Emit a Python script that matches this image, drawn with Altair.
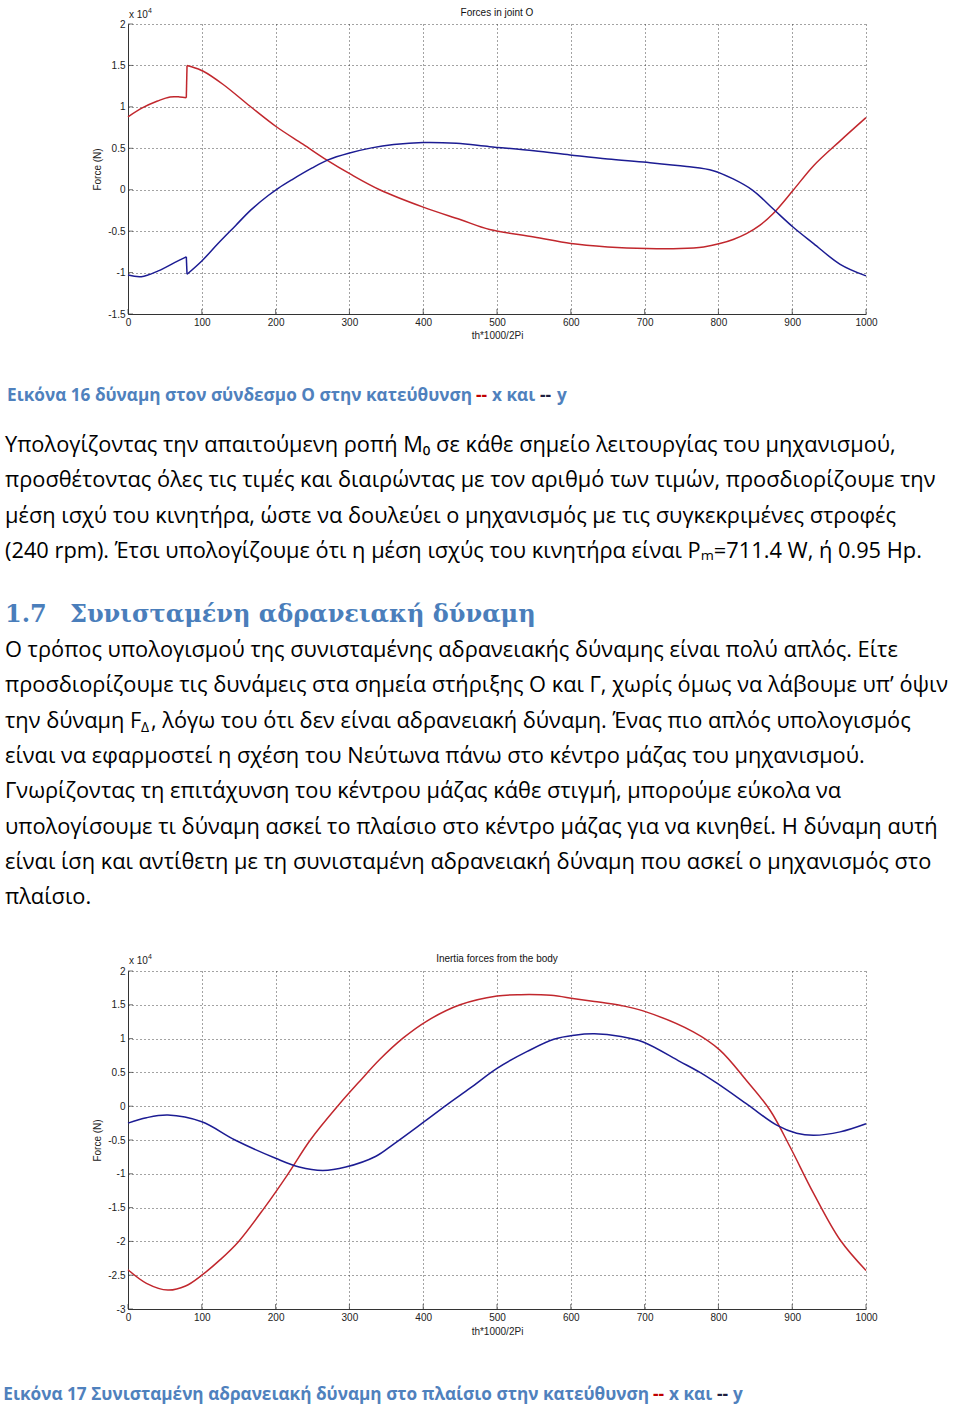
import altair as alt
import pandas as pd

# ---------------- data ----------------
X_TICKS = [0, 100, 200, 300, 400, 500, 600, 700, 800, 900, 1000]
C1_YTICKS = [-1.5, -1, -0.5, 0, 0.5, 1, 1.5, 2]
C2_YTICKS = [-3, -2.5, -2, -1.5, -1, -0.5, 0, 0.5, 1, 1.5, 2]

# Chart 1: Forces in joint O (units of 1e4 N); the curves jump between x=79 and x=80
C1_JUMP = 80
C1_X_RED = [0, 20, 40, 57, 70, 79, 80, 84, 102, 129, 165, 201, 237, 269, 301, 341, 400, 450, 490,
            550, 600, 650, 703, 748, 780, 802, 820, 838, 856, 874, 901, 929, 965, 1000]
C1_RED = [0.88, 0.99, 1.07, 1.12, 1.12, 1.11, 1.50, 1.49, 1.43, 1.27, 1.01, 0.76, 0.55, 0.36, 0.19,
          0.0, -0.21, -0.36, -0.48, -0.57, -0.65, -0.69, -0.71, -0.71, -0.69, -0.65, -0.60, -0.53,
          -0.43, -0.29, -0.01, 0.29, 0.59, 0.87]
C1_X_BLUE = [0, 18, 41, 63, 79, 80, 100, 122, 145, 167, 190, 204, 222, 249, 271, 299, 330, 360, 400,
             445, 490, 550, 599, 650, 703, 757, 793, 820, 847, 874, 901, 929, 965, 1000]
C1_BLUE = [-1.03, -1.05, -0.98, -0.88, -0.81, -1.02, -0.86, -0.65, -0.44, -0.24, -0.07, 0.02, 0.12,
           0.26, 0.36, 0.44, 0.505, 0.545, 0.57, 0.56, 0.52, 0.47, 0.42, 0.37, 0.33, 0.28, 0.23,
           0.13, -0.01, -0.23, -0.45, -0.65, -0.90, -1.04]

# Chart 2: Inertia forces from the body (units of 1e4 N)
C2_X_RED = [0, 25, 54, 78, 100, 125, 150, 185, 217, 247, 284, 314, 341, 373, 405, 450, 500, 532,
            573, 605, 632, 668, 698, 766, 802, 838, 870, 897, 929, 965, 1000]
C2_RED = [-2.42, -2.62, -2.72, -2.66, -2.50, -2.27, -2.00, -1.50, -1.00, -0.50, 0.0, 0.37, 0.69,
          1.01, 1.26, 1.50, 1.63, 1.65, 1.64, 1.59, 1.55, 1.49, 1.41, 1.10, 0.83, 0.38, -0.06,
          -0.60, -1.29, -1.98, -2.43]
C2_X_BLUE = [0, 25, 54, 100, 145, 200, 232, 264, 295, 336, 360, 400, 432, 464, 500, 541, 577, 605,
             632, 668, 698, 748, 775, 798, 840, 879, 906, 929, 965, 1000]
C2_BLUE = [-0.25, -0.17, -0.13, -0.23, -0.50, -0.77, -0.90, -0.95, -0.90, -0.74, -0.56, -0.24,
           0.02, 0.27, 0.56, 0.81, 0.99, 1.05, 1.07, 1.03, 0.95, 0.66, 0.50, 0.34, 0.02, -0.28,
           -0.40, -0.43, -0.38, -0.26]

SERIES = ["x", "y"]

CAPTION1 = ["Εικόνα 16 δύναμη στον σύνδεσμο O στην κατεύθυνση", "--", "x και", "--", "y"]
CAPTION2 = ["Εικόνα 17 Συνισταμένη αδρανειακή δύναμη στο πλαίσιο στην κατεύθυνση", "--", "x και", "--", "y"]

P1_LINES = [
    "Υπολογίζοντας την απαιτούμενη ροπή M₀ σε κάθε σημείο λειτουργίας του μηχανισμού,",
    "προσθέτοντας όλες τις τιμές και διαιρώντας με τον αριθμό των τιμών, προσδιορίζουμε την",
    "μέση ισχύ του κινητήρα, ώστε να δουλεύει ο μηχανισμός με τις συγκεκριμένες στροφές",
    "(240 rpm). Έτσι υπολογίζουμε ότι η μέση ισχύς του κινητήρα είναι Pₘ=711.4 W, ή 0.95 Hp.",
]
HEADING = ["1.7", "Συνισταμένη αδρανειακή δύναμη"]
P2_LINES = [
    "Ο τρόπος υπολογισμού της συνισταμένης αδρανειακής δύναμης είναι πολύ απλός. Είτε",
    "προσδιορίζουμε τις δυνάμεις στα σημεία στήριξης Ο και Γ, χωρίς όμως να λάβουμε υπ’ όψιν",
    None,
    "είναι να εφαρμοστεί η σχέση του Νεύτωνα πάνω στο κέντρο μάζας του μηχανισμού.",
    "Γνωρίζοντας τη επιτάχυνση του κέντρου μάζας κάθε στιγμή, μπορούμε εύκολα να",
    "υπολογίσουμε τι δύναμη ασκεί το πλαίσιο στο κέντρο μάζας για να κινηθεί. Η δύναμη αυτή",
    "είναι ίση και αντίθετη με τη συνισταμένη αδρανειακή δύναμη που ασκεί ο μηχανισμός στο",
    "πλαίσιο.",
]
P2_L3 = ["την δύναμη F", "Δ", ", λόγω του ότι δεν είναι αδρανειακή δύναμη. Ένας πιο απλός υπολογισμός"]

# ---------------- styling ----------------
RED = "#c1272d"
BLUE = "#1c1c93"
CAP_BLUE = "#4f81bd"
DARK = "#1e1e40"
AX_FONT = "Liberation Sans"
BODY_FONT = "Open Sans"
BODY_SIZE = 21.8
CAP_SIZE = 17.2
W = 738
H1 = 290
H2 = 338
OX, OY = 128, 24  # page position of chart 1 plot origin


def segments(xs, ys, name, jump=None):
    """Split a series into pieces at a discontinuity (plus the vertical connector)."""
    rows = []
    for x, y in zip(xs, ys):
        if jump is None:
            rows.append((x, y, name, name))
        else:
            rows.append((x, y, name, name + ("b" if x >= jump else "a")))
    if jump is not None:
        i = xs.index(jump)
        rows.append((xs[i - 1], ys[i - 1], name, name + "j"))
        rows.append((xs[i], ys[i], name, name + "j"))
    return pd.DataFrame(rows, columns=["x", "f", "s", "seg"])


def txt(text, x, y, size, color="#000", font=BODY_FONT, weight="normal", align="left"):
    return alt.Chart(pd.DataFrame({"t": [text]})).mark_text(
        align=align, baseline="alphabetic", fontSize=size, font=font,
        fontWeight=weight, color=color
    ).encode(text="t:N", x=alt.value(x), y=alt.value(y))


def plot(df, ydom, yticks, h, title, title_y, xtitle_y):
    xs = alt.Scale(domain=[0, 1000], nice=False, zero=False)
    ys = alt.Scale(domain=ydom, nice=False, zero=False)
    common = dict(grid=True, gridDash=[1, 3], gridColor="#333", gridOpacity=0.9,
                  domainColor="#333", ticks=False, tickSize=0,
                  labelFont=AX_FONT, labelFontSize=10, labelColor="#222",
                  labelFlush=False, labelOverlap=False, labelBound=False,
                  labelExpr="datum.value + ''",
                  titleFont=AX_FONT, titleFontSize=10, titleFontWeight="normal",
                  titleColor="#222", titleAlign="center", titleBaseline="middle")
    xa = alt.Axis(values=X_TICKS, title="th*1000/2Pi", labelPadding=3,
                  titleX=W / 2, titleY=xtitle_y, **common)
    ya = alt.Axis(values=yticks, title="Force (N)", labelPadding=3,
                  titleX=-31, titleY=h / 2, titleAngle=270, **common)
    X = alt.X("x:Q", scale=xs, axis=xa)
    Y = alt.Y("f:Q", scale=ys, axis=ya)
    lines = alt.Chart(df).mark_line(strokeWidth=1.5, interpolate="catmull-rom").encode(
        x=X, y=Y,
        color=alt.Color("s:N", scale=alt.Scale(domain=SERIES, range=[RED, BLUE]), legend=None),
        detail="seg:N",
    )
    xt = alt.Chart(pd.DataFrame({"x": X_TICKS})).mark_tick(
        orient="vertical", size=5, thickness=1, color="#333"
    ).encode(x=X, y=alt.value(h - 2.5))
    yt = alt.Chart(pd.DataFrame({"f": yticks})).mark_tick(
        orient="horizontal", size=5, thickness=1, color="#333"
    ).encode(y=Y, x=alt.value(2.5))
    return [xt, yt, lines,
            txt(title, W / 2, title_y, 10, "#111", AX_FONT, align="center"),
            txt("x 10", 1, title_y + 2, 10, "#222", AX_FONT),
            txt("4", 20, title_y - 3, 7, "#222", AX_FONT)]


df1 = pd.concat([segments(C1_X_RED, C1_RED, SERIES[0], C1_JUMP),
                 segments(C1_X_BLUE, C1_BLUE, SERIES[1], C1_JUMP)])
df2 = pd.concat([segments(C2_X_RED, C2_RED, SERIES[0]),
                 segments(C2_X_BLUE, C2_BLUE, SERIES[1])])

# invisible page-sized rect: fixes the drawing bounds to the 960x1409 page
page = alt.Chart(pd.DataFrame({"a": [0]})).mark_rect(color="white", opacity=0).encode(
    x=alt.value(-OX), x2=alt.value(960 - OX), y=alt.value(-OY), y2=alt.value(1409 - OY))

L = 5 - OX
doc = []


def caption(parts, y, x_end, x_red, x_xkai, x_dark, x_y):
    return [txt(parts[0], x_end - OX, y - OY, CAP_SIZE, CAP_BLUE, weight="bold", align="right"),
            txt(parts[1], x_red - OX, y - OY, CAP_SIZE, "#c00000", weight="bold"),
            txt(parts[2], x_xkai - OX, y - OY, CAP_SIZE, CAP_BLUE, weight="bold"),
            txt(parts[3], x_dark - OX, y - OY, CAP_SIZE, DARK, weight="bold"),
            txt(parts[4], x_y - OX, y - OY, CAP_SIZE, CAP_BLUE, weight="bold")]


doc += caption(CAPTION1, 401, 472, 476, 492, 540, 557)
for i, line in enumerate(P1_LINES):
    doc.append(txt(line, L, 452 + 35.4 * i - OY, BODY_SIZE))
doc += [txt(HEADING[0], L, 622 - OY, 24, "#4a7ebb", "DejaVu Serif", "bold"),
        txt(HEADING[1], 70 - OX, 622 - OY, 24, "#4a7ebb", "DejaVu Serif", "bold")]
for i, line in enumerate(P2_LINES):
    y = 657 + 35.3 * i - OY
    if line is None:
        doc += [txt(P2_L3[0], L, y, BODY_SIZE),
                txt(P2_L3[1], 141 - OX, y + 4, 14),
                txt(P2_L3[2], 151 - OX, y, BODY_SIZE)]
    else:
        doc.append(txt(line, L, y, BODY_SIZE))
doc += caption(CAPTION2, 1400, 649, 653, 669, 717, 733)

c1 = alt.layer(page, *plot(df1, [-1.5, 2], C1_YTICKS, H1, "Forces in joint O", -8, 21), *doc
               ).properties(width=W, height=H1)
c2 = alt.layer(*plot(df2, [-3, 2], C2_YTICKS, H2, "Inertia forces from the body", -9, 22)
               ).properties(width=W, height=H2)

chart = alt.vconcat(c1, c2, spacing=971 - OY - H1, bounds="flush", padding=0
                    ).configure_view(strokeWidth=0)

chart.save("out.html", embed_options={"renderer": "svg", "actions": False})
